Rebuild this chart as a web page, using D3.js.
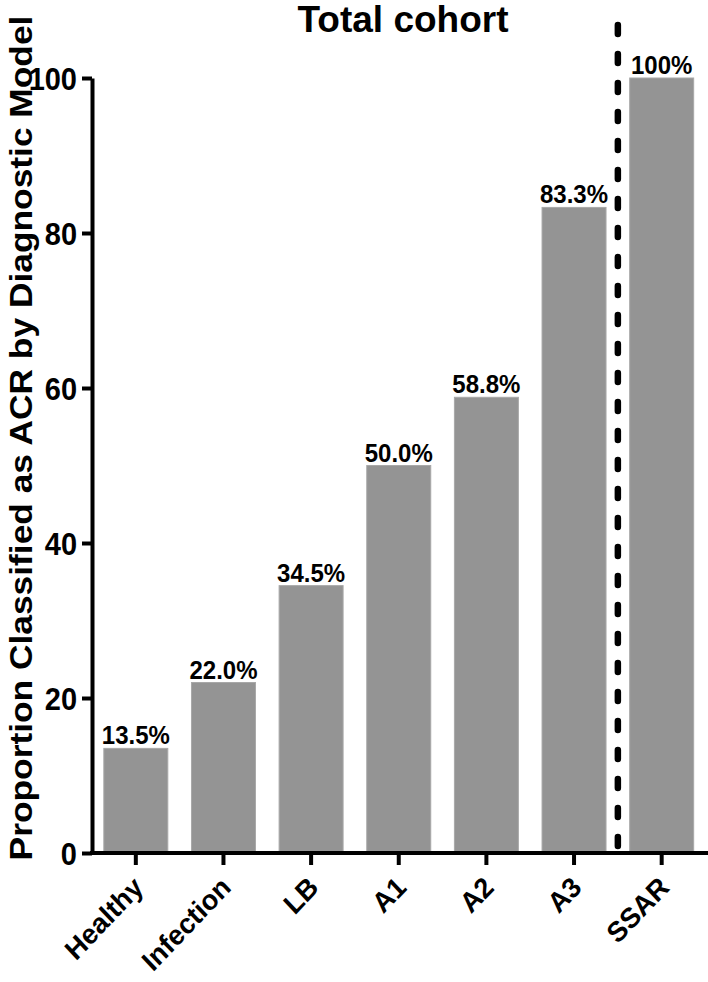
<!DOCTYPE html>
<html><head><meta charset="utf-8">
<script src="https://cdn.jsdelivr.net/npm/d3@7"></script>
<style>
html,body{margin:0;padding:0;background:#fff;}
text{font-family:"Liberation Sans",Arial,sans-serif;font-weight:bold;fill:#000;}
</style></head>
<body>
<svg id="chart" width="708" height="982"></svg>
<script>
const categories = ["Healthy","Infection","LB","A1","A2","A3","SSAR"];
const values = [13.5, 22.0, 34.5, 50.0, 58.8, 83.3, 100];
const valueLabels = ["13.5%","22.0%","34.5%","50.0%","58.8%","83.3%","100%"];
const yTicks = [0,20,40,60,80,100];
const title = "Total cohort";
const yTitle = "Proportion Classified as ACR by Diagnostic Model";
const dividerBetween = ["A3","SSAR"];

const svg = d3.select("#chart");
const x0 = 92, x1 = 705.5, yBottom = 853, yTop = 78;

const x = d3.scaleBand().domain(categories).range([x0, x1]).paddingInner(0.27).paddingOuter(0.135);
const y = d3.scaleLinear().domain([0,100]).range([yBottom, yTop]);

// bars
svg.append("g").selectAll("rect").data(categories).join("rect")
  .attr("x", d => x(d))
  .attr("width", x.bandwidth())
  .attr("y", (d,i) => y(values[i]))
  .attr("height", (d,i) => y(0) - y(values[i]))
  .attr("fill", "#949494")
  .attr("stroke", "#a8a8a8")
  .attr("stroke-width", 1);

// value labels
svg.append("g").selectAll("text").data(categories).join("text")
  .attr("transform", (d,i) => `translate(${x(d) + x.bandwidth()/2},${y(values[i]) - 4}) scale(1,1.08)`)
  .attr("text-anchor", "middle")
  .style("font-size", "24px")
  .text((d,i) => valueLabels[i]);

// y axis
const yAxis = d3.axisLeft(y).tickValues(yTicks).tickSize(10).tickSizeOuter(0).tickPadding(5);
const gy = svg.append("g").attr("transform", `translate(${x0},0)`).call(yAxis);
gy.select(".domain").attr("stroke","#000").attr("stroke-width",4);
gy.selectAll(".tick line").attr("stroke","#000").attr("stroke-width",4);
gy.selectAll(".tick text").style("font-size","29px").attr("font-family",null).attr("fill","#000")
  .attr("x", null).attr("dy", null)
  .attr("transform", "translate(-15,11) scale(1,1.1)");

// x axis
const xAxis = d3.axisBottom(x).tickSize(12).tickSizeOuter(0);
const gx = svg.append("g").attr("transform", `translate(0,${yBottom})`).call(xAxis);
gx.select(".domain").attr("stroke","#000").attr("stroke-width",4).attr("d", `M${x0-2},0H708`);
gx.selectAll(".tick line").attr("stroke","#000").attr("stroke-width",4);
gx.selectAll(".tick text")
  .style("font-size","27px").attr("font-family",null).attr("fill","#000")
  .attr("text-anchor","end")
  .attr("y", 0).attr("dy", 0)
  .attr("transform", "translate(9,36) scale(1,1.05) rotate(-45)");

// dashed divider
const xd = (x(dividerBetween[0]) + x.bandwidth() + x(dividerBetween[1])) / 2;
svg.append("line")
  .attr("x1", xd).attr("x2", xd)
  .attr("y1", 25).attr("y2", yBottom)
  .attr("stroke", "#000").attr("stroke-width", 6.5)
  .attr("stroke-linecap", "round")
  .attr("stroke-dasharray", "9 20");

// title
svg.append("text")
  .attr("transform", "translate(403,32)")
  .attr("text-anchor", "middle")
  .style("font-size", "37px")
  .text(title);

// y title
svg.append("text")
  .attr("transform", "translate(32,438) scale(1,1.14) rotate(-90)")
  .attr("text-anchor", "middle")
  .style("font-size", "31px")
  .text(yTitle);
</script>
</body></html>
